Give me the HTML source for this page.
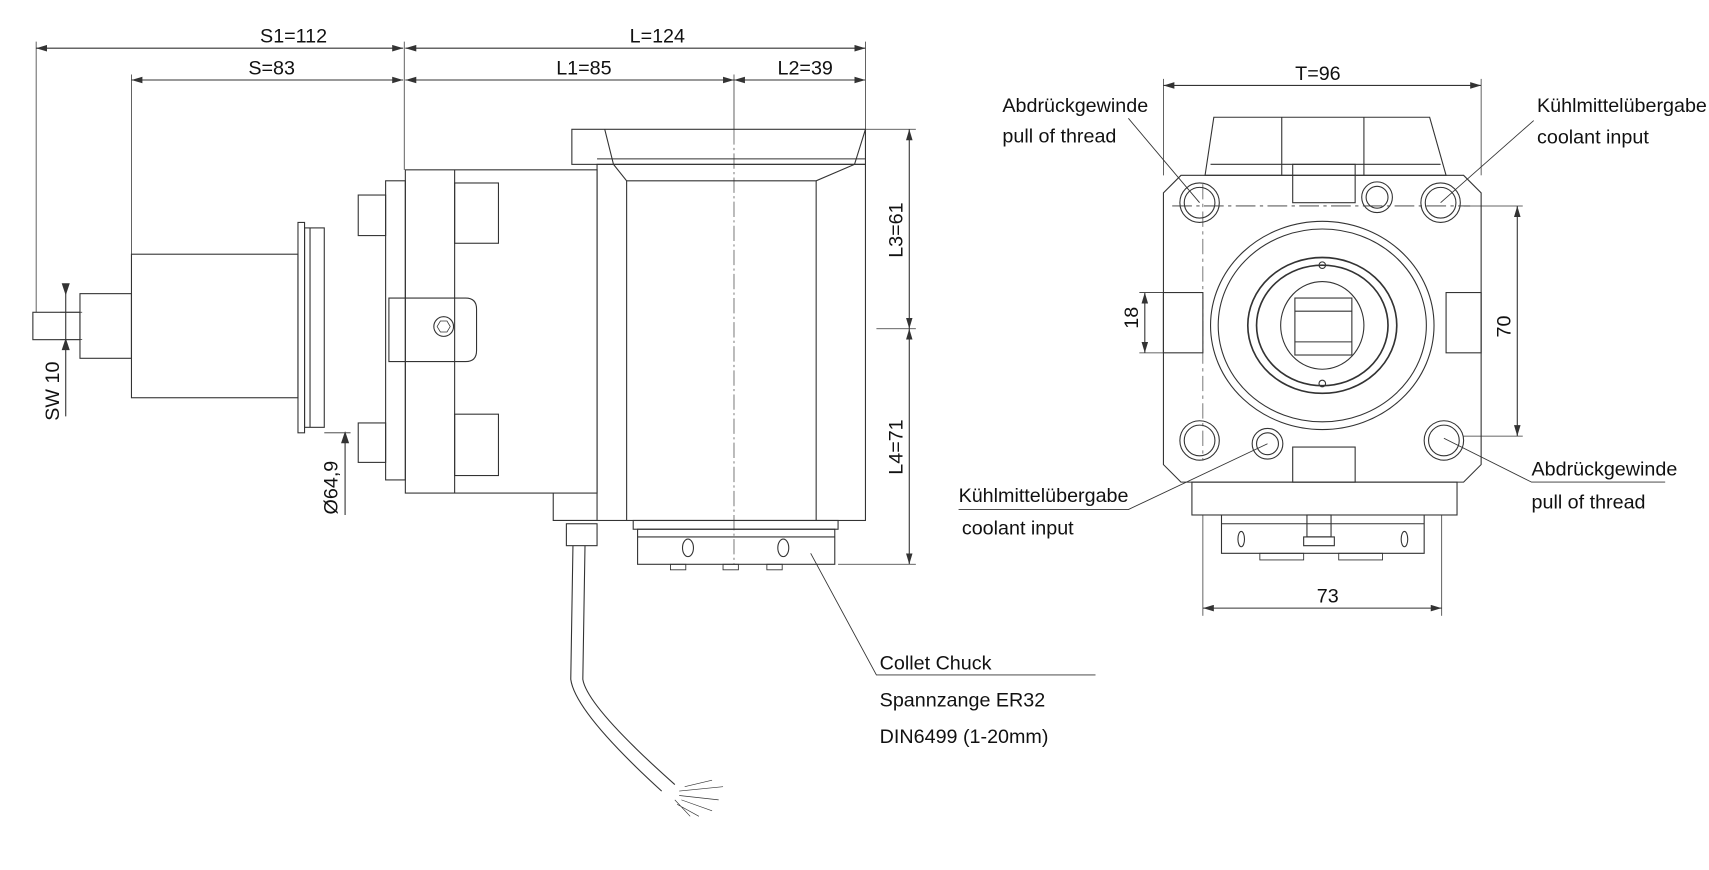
<!DOCTYPE html>
<html><head><meta charset="utf-8"><style>
html,body{margin:0;padding:0;background:#fff;width:1709px;height:870px;overflow:hidden}
svg{display:block}
text{font-family:"Liberation Sans Narrow","Liberation Sans",sans-serif;font-size:18px;fill:#111}
</style></head><body>
<svg width="1709" height="870" viewBox="0 0 1560 794" preserveAspectRatio="none" xmlns="http://www.w3.org/2000/svg">
<defs>
<marker id="a" viewBox="0 0 10 6" refX="10" refY="3" markerWidth="10" markerHeight="6" orient="auto-start-reverse"><path d="M0,0L10,3L0,6z" fill="#333"/></marker>
</defs>
<g stroke="#333" stroke-width="1" fill="none">
<!-- top dimensions -->
<line x1="33" y1="44" x2="368" y2="44" marker-start="url(#a)" marker-end="url(#a)"/>
<line x1="370" y1="44" x2="790" y2="44" marker-start="url(#a)" marker-end="url(#a)"/>
<line x1="120" y1="73" x2="368" y2="73" marker-start="url(#a)" marker-end="url(#a)"/>
<line x1="370" y1="73" x2="670" y2="73" marker-start="url(#a)" marker-end="url(#a)"/>
<line x1="670" y1="73" x2="790" y2="73" marker-start="url(#a)" marker-end="url(#a)"/>
<line x1="33" y1="38" x2="33" y2="285" stroke-width=".7"/>
<line x1="120" y1="68" x2="120" y2="232" stroke-width=".7"/>
<line x1="369" y1="38" x2="369" y2="155" stroke-width=".7"/>
<line x1="790" y1="38" x2="790" y2="118" stroke-width=".7"/>
<line x1="670" y1="68" x2="670" y2="118" stroke-width=".7"/>
<line x1="670" y1="118" x2="670" y2="515" stroke-width=".6" stroke-dasharray="14 3 2 3"/>
<!-- left view body -->
<rect x="30" y="285" width="43" height="25"/>
<rect x="73" y="268" width="47" height="59"/>
<rect x="120" y="232" width="152" height="131"/>
<rect x="272" y="203" width="6" height="192"/>
<rect x="278" y="208" width="18" height="182"/>
<line x1="283" y1="208" x2="283" y2="390"/>
<rect x="327" y="178" width="25" height="37"/>
<rect x="327" y="386" width="25" height="36"/>
<rect x="352" y="165" width="18" height="273"/>
<rect x="370" y="155" width="175" height="295"/>
<line x1="415" y1="155" x2="415" y2="450"/>
<rect x="415" y="167" width="40" height="55"/>
<rect x="415" y="378" width="40" height="56"/>
<path d="M355,272 H425 Q435,272 435,282 V320 Q435,330 425,330 H355 Z"/>
<circle cx="405" cy="298" r="9"/>
<path d="M399,298 l3,-5 h6 l3,5 l-3,5 h-6 z" stroke-width=".7"/>
<path d="M505,450 V475 H545"/>
<rect x="545" y="150" width="245" height="325"/>
<rect x="522" y="118" width="268" height="32"/>
<path d="M552,118 L560,150 L572,165 H745 L780,150 L790,118"/>
<line x1="572" y1="165" x2="572" y2="475"/>
<line x1="745" y1="165" x2="745" y2="475"/>
<line x1="545" y1="145" x2="790" y2="145"/>
<rect x="578" y="475" width="187" height="8"/>
<rect x="582" y="483" width="180" height="32"/>
<line x1="582" y1="490" x2="762" y2="490"/>
<ellipse cx="628" cy="500" rx="5" ry="8"/>
<ellipse cx="715" cy="500" rx="5" ry="8"/>
<path d="M612,515 h14 v5 h-14z M660,515 h14 v5 h-14z M700,515 h14 v5 h-14z" stroke-width=".8"/>
<!-- cable -->
<rect x="517" y="478" width="28" height="20"/>
<path d="M523,498 L521,620 Q525,650 604,722 M534,498 L532,620 Q536,645 616,716"/>
<path d="M620,722 L660,718 M620,726 L656,730 M622,730 L650,740 M618,734 L638,745 M616,730 L630,745 M625,718 L650,712" stroke-width=".6"/>
<!-- L3 L4 -->
<line x1="830" y1="118" x2="830" y2="300" marker-start="url(#a)" marker-end="url(#a)"/>
<line x1="830" y1="300" x2="830" y2="515" marker-start="url(#a)" marker-end="url(#a)"/>
<line x1="790" y1="118" x2="836" y2="118" stroke-width=".7"/>
<line x1="800" y1="300" x2="836" y2="300" stroke-width=".7"/>
<line x1="765" y1="515" x2="836" y2="515" stroke-width=".7"/>
<!-- SW10 -->
<line x1="60" y1="262" x2="60" y2="380"/>
<path d="M60,268 l-3,-9 h6z M60,310 l-3,9 h6z" fill="#333"/>
<line x1="55" y1="285" x2="75" y2="285" stroke-width=".7"/>
<line x1="55" y1="310" x2="75" y2="310" stroke-width=".7"/>
<!-- Ø64,9 -->
<line x1="315" y1="395" x2="315" y2="470"/>
<path d="M315,395 l-3,9 h6z" fill="#333"/>
<line x1="296" y1="395" x2="320" y2="395" stroke-width=".7"/>
<!-- collet leader -->
<path d="M740,505 L800,616 H1000" stroke-width=".8"/>

<!-- right view -->
<line x1="1062" y1="78" x2="1352" y2="78" marker-start="url(#a)" marker-end="url(#a)"/>
<line x1="1062" y1="72" x2="1062" y2="160" stroke-width=".7"/>
<line x1="1352" y1="72" x2="1352" y2="160" stroke-width=".7"/>
<path d="M1108,107 H1305 L1320,160 H1100 Z"/>
<line x1="1170" y1="107" x2="1170" y2="160"/><line x1="1245" y1="107" x2="1245" y2="160"/>
<line x1="1105" y1="150" x2="1315" y2="150"/>
<path d="M1078,160 H1336 L1352,176 V424 L1336,440 H1078 L1062,424 V176 Z"/>
<rect x="1180" y="150" width="57" height="35"/>
<rect x="1180" y="408" width="57" height="32"/>
<rect x="1062" y="267" width="36" height="55"/>
<rect x="1320" y="267" width="32" height="55"/>
<circle cx="1095" cy="185" r="18"/><circle cx="1095" cy="185" r="14"/>
<circle cx="1315" cy="185" r="18"/><circle cx="1315" cy="185" r="14"/>
<circle cx="1095" cy="402" r="18"/><circle cx="1095" cy="402" r="14"/>
<circle cx="1318" cy="402" r="18"/><circle cx="1318" cy="402" r="14"/>
<circle cx="1257" cy="180" r="14"/><circle cx="1257" cy="180" r="10"/>
<circle cx="1157" cy="405" r="14"/><circle cx="1157" cy="405" r="10"/>
<ellipse cx="1207" cy="297" rx="102" ry="95"/>
<ellipse cx="1207" cy="297" rx="95" ry="88"/>
<ellipse cx="1207" cy="297" rx="68" ry="62" stroke-width="1.5"/>
<ellipse cx="1207" cy="297" rx="60" ry="55" stroke-width="1.5"/>
<ellipse cx="1207" cy="297" rx="38" ry="40"/>
<rect x="1182" y="272" width="52" height="52"/>
<line x1="1182" y1="284" x2="1234" y2="284"/><line x1="1182" y1="312" x2="1234" y2="312"/>
<circle cx="1207" cy="242" r="3"/><circle cx="1207" cy="350" r="3"/>
<line x1="1070" y1="188" x2="1342" y2="188" stroke-width=".8" stroke-dasharray="18 4 3 4"/>
<line x1="1098" y1="168" x2="1098" y2="420" stroke-width=".6" stroke-dasharray="14 4 3 4"/>
<rect x="1088" y="440" width="242" height="30"/>
<path d="M1115,470 H1300 V505 H1115 Z"/>
<line x1="1115" y1="478" x2="1300" y2="478"/>
<rect x="1193" y="470" width="22" height="20"/>
<path d="M1190,490 h28 v8 h-28z"/>
<ellipse cx="1133" cy="492" rx="3" ry="7"/><ellipse cx="1282" cy="492" rx="3" ry="7"/>
<path d="M1150,505 h40 v6 h-40z M1222,505 h40 v6 h-40z" stroke-width=".8"/>
<line x1="1098" y1="470" x2="1098" y2="562" stroke-width=".7"/>
<line x1="1316" y1="470" x2="1316" y2="562" stroke-width=".7"/>
<line x1="1098" y1="555" x2="1316" y2="555" marker-start="url(#a)" marker-end="url(#a)"/>
<line x1="1045" y1="267" x2="1045" y2="322" marker-start="url(#a)" marker-end="url(#a)"/>
<line x1="1040" y1="267" x2="1062" y2="267" stroke-width=".7"/>
<line x1="1040" y1="322" x2="1062" y2="322" stroke-width=".7"/>
<line x1="1385" y1="188" x2="1385" y2="398" marker-start="url(#a)" marker-end="url(#a)"/>
<line x1="1336" y1="188" x2="1390" y2="188" stroke-width=".7"/>
<line x1="1336" y1="398" x2="1390" y2="398" stroke-width=".7"/>
<!-- leaders -->
<path d="M1030,108 L1095,185" stroke-width=".8"/>
<path d="M1400,110 L1315,185" stroke-width=".8"/>
<path d="M1318,400 L1398,440 H1520" stroke-width=".8"/>
<path d="M1157,405 L1030,465 H875" stroke-width=".8"/>
</g>
<text x="268" y="39" text-anchor="middle">S1=112</text>
<text x="600" y="39" text-anchor="middle">L=124</text>
<text x="248" y="68" text-anchor="middle">S=83</text>
<text x="533" y="68" text-anchor="middle">L1=85</text>
<text x="735" y="68" text-anchor="middle">L2=39</text>
<text transform="translate(824,210) rotate(-90)" text-anchor="middle">L3=61</text>
<text transform="translate(824,408) rotate(-90)" text-anchor="middle">L4=71</text>
<text transform="translate(54,357) rotate(-90)" text-anchor="middle">SW 10</text>
<text transform="translate(308,445) rotate(-90)" text-anchor="middle">Ø64,9</text>
<text x="803" y="611">Collet Chuck</text>
<text x="803" y="645">Spannzange ER32</text>
<text x="803" y="678">DIN6499 (1-20mm)</text>
<text x="1203" y="73" text-anchor="middle">T=96</text>
<text x="1212" y="550" text-anchor="middle">73</text>
<text transform="translate(1039,290) rotate(-90)" text-anchor="middle">18</text>
<text transform="translate(1379,298) rotate(-90)" text-anchor="middle">70</text>
<text x="915" y="102">Abdrückgewinde</text>
<text x="915" y="130">pull of thread</text>
<text x="1403" y="102">Kühlmittelübergabe</text>
<text x="1403" y="131">coolant input</text>
<text x="1398" y="434">Abdrückgewinde</text>
<text x="1398" y="464">pull of thread</text>
<text x="875" y="458">Kühlmittelübergabe</text>
<text x="878" y="488">coolant input</text>
</svg>
</body></html>
